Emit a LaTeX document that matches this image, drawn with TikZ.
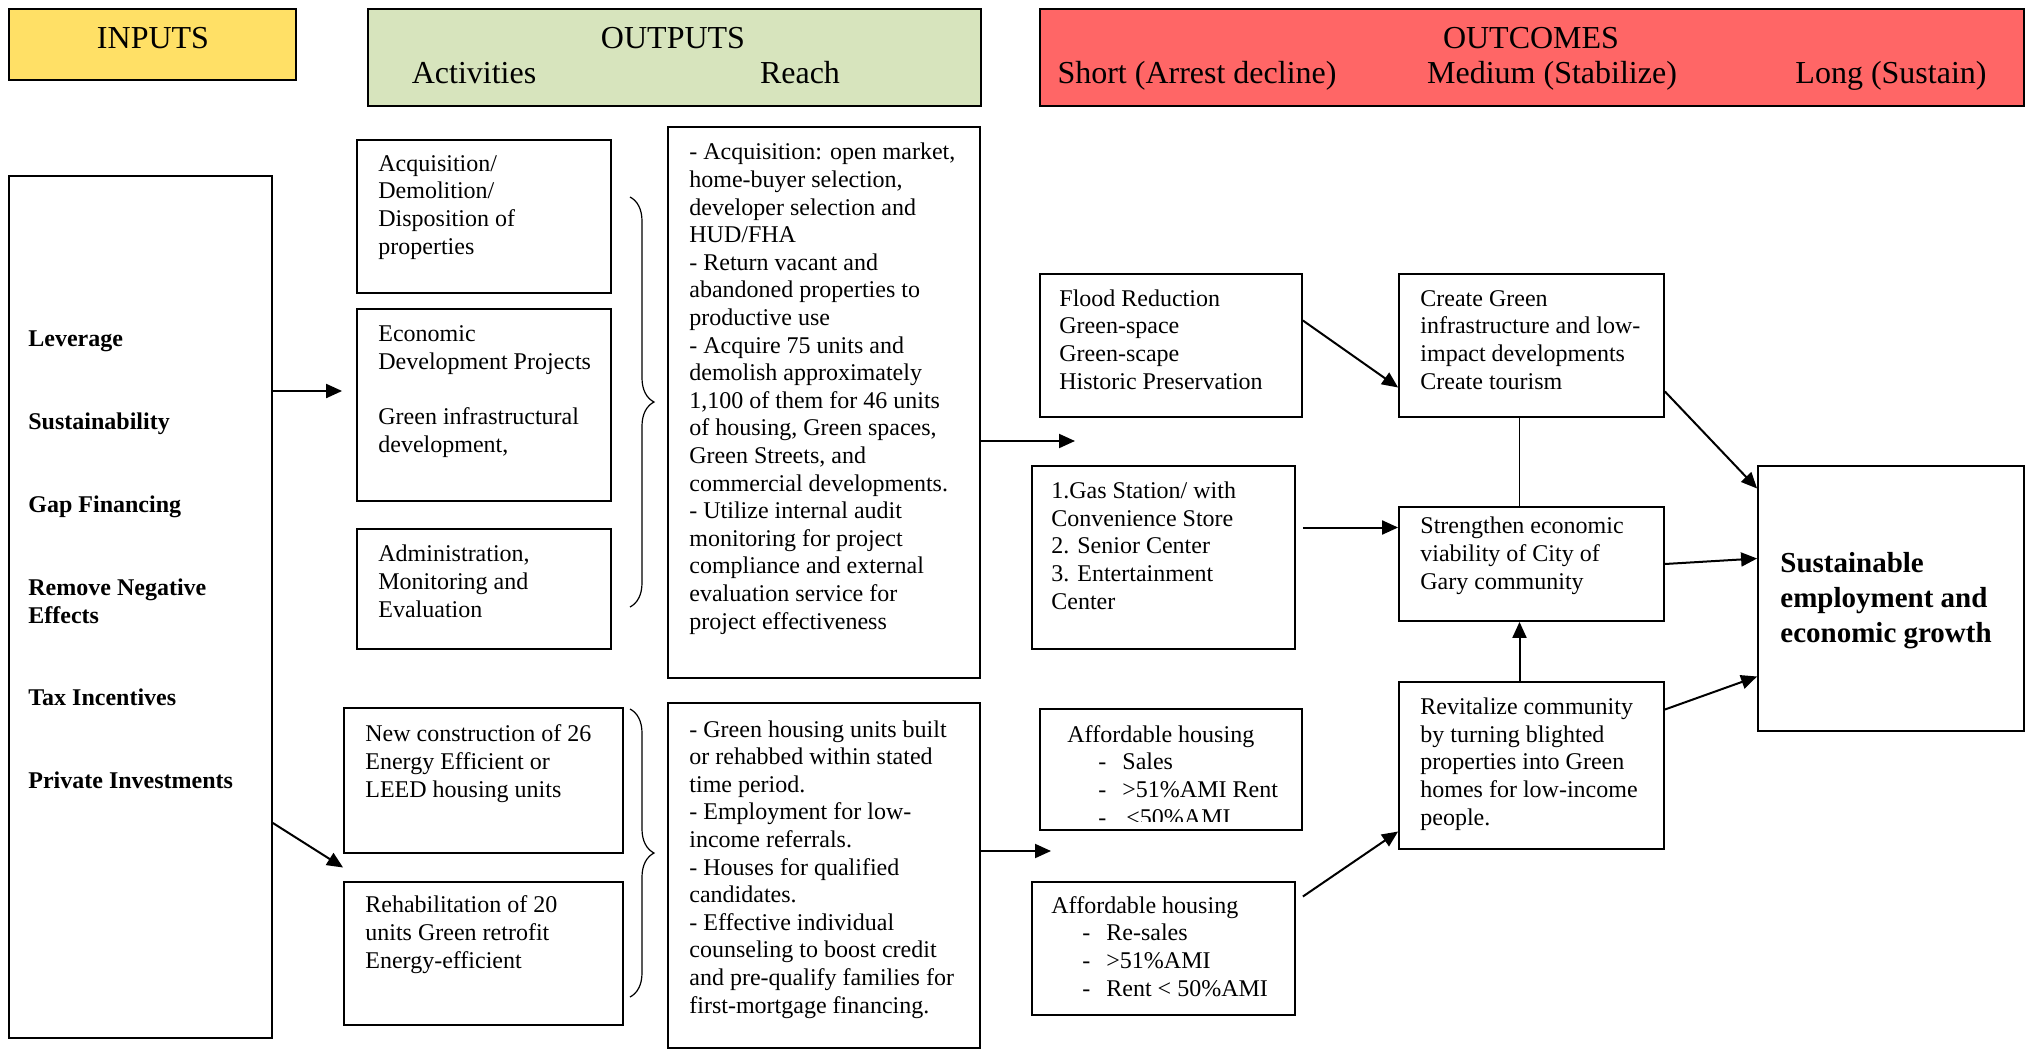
\documentclass[tikz,border=0pt]{standalone}
\usepackage{fontspec}
\setmainfont{Liberation Serif}
\usetikzlibrary{arrows.meta,fit,calc,decorations.pathreplacing}
\definecolor{inyellow}{HTML}{FFE066}
\definecolor{outgreen}{HTML}{D7E4BD}
\definecolor{outred}{HTML}{FF6666}
\newcommand{\itm}[1]{\hspace*{15.5pt}\makebox[12pt][l]{-}#1}
\begin{document}
\begin{tikzpicture}[x=0.5pt,y=-0.5pt,
  box/.style={draw, line width=0.9pt, inner sep=0pt},
  head/.style={draw, line width=1pt, inner sep=0pt},
  txt/.style={anchor=base west, inner sep=0pt, align=left, font=\fontsize{12}{13.8}\selectfont},
  htxt/.style={anchor=base, inner sep=0pt, font=\fontsize{16}{19}\selectfont},
  btxt/.style={txt, font=\fontsize{12}{13.8}\selectfont\bfseries},
  arr/.style={-{Triangle[length=8pt,width=7pt]}, line width=1pt},
  brc/.style={decorate, decoration={brace, amplitude=12pt}, line width=0.6pt}]
\useasboundingbox (0,0) rectangle (2030,1050);

% headers
\node[head, fill=inyellow, fit={(9,9) (296,80)}] (hin) {};
\node[head, fill=outgreen, fit={(368,9) (981,106)}] (hout) {};
\node[head, fill=outred, fit={(1040,9) (2024,106)}] (hres) {};
\node[htxt] (hin-t) at (153,48) {INPUTS};
\node[htxt] (hout-t) at (673,48) {OUTPUTS};
\node[htxt] (hact-t) at (474,83) {Activities};
\node[htxt] (hreach-t) at (800,83) {Reach};
\node[htxt] (hres-t) at (1531,48) {OUTCOMES};
\node[htxt] (hshort-t) at (1197,83) {Short (Arrest decline)};
\node[htxt] (hmed-t) at (1552,83) {Medium (Stabilize)};
\node[htxt] (hlong-t) at (1891,83) {Long (Sustain)};

% inputs (text nodes sit on the baseline of their last line)
\node[box, fit={(9,176) (272,1038)}] (inputs) {};
\node[btxt] (in1) at (28,346) {Leverage};
\node[btxt] (in2) at (28,429) {Sustainability};
\node[btxt] (in3) at (28,512) {Gap Financing};
\node[btxt] (in4) at (28,623) {Remove Negative\\Effects};
\node[btxt] (in5) at (28,705) {Tax Incentives};
\node[btxt] (in6) at (28,788) {Private Investments};

% activities
\node[box, fit={(357,140) (611,293)}] (acq) {};
\node[box, fit={(357,309) (611,501)}] (econ) {};
\node[box, fit={(357,529) (611,649)}] (admin) {};
\node[box, fit={(344,708) (623,853)}] (newc) {};
\node[box, fit={(344,882) (623,1025)}] (rehab) {};
\node[txt] (acq-t) at (378,254) {Acquisition/\\Demolition/\\Disposition of\\properties};
\node[txt] (econ-t) at (378,452) {Economic\\Development Projects\\[13.8pt]Green infrastructural\\development,};
\node[txt] (admin-t) at (378,617) {Administration,\\Monitoring and\\Evaluation};
\node[txt] (newc-t) at (365,797) {New construction of 26\\Energy Efficient or\\LEED housing units};
\node[txt] (rehab-t) at (365,968) {Rehabilitation of 20\\units Green retrofit\\Energy-efficient};
\draw[brc] (630,197) -- (630,607);
\draw[brc] (630,709) -- (630,997);

% reach
\node[box, fit={(668,127) (980,678)}] (reach1) {};
\node[box, fit={(668,703) (980,1048)}] (reach2) {};
\node[txt] (reach1-t) at (689,629) {- Acquisition: open market,\\home-buyer selection,\\developer selection and\\HUD/FHA\\- Return vacant and\\abandoned properties to\\productive use\\- Acquire 75 units and\\demolish approximately\\1,100 of them for 46 units\\of housing, Green spaces,\\Green Streets, and\\commercial developments.\\- Utilize internal audit\\monitoring for project\\compliance and external\\evaluation service for\\project effectiveness};
\node[txt] (reach2-t) at (689,1013) {- Green housing units built\\or rehabbed within stated\\time period.\\- Employment for low-\\income referrals.\\- Houses for qualified\\candidates.\\- Effective individual\\counseling to boost credit\\and pre-qualify families for\\first-mortgage financing.};

% short term
\node[box, fit={(1040,274) (1302,417)}] (flood) {};
\node[box, fit={(1032,466) (1295,649)}] (gas) {};
\node[box, fit={(1040,709) (1302,830)}] (aff1) {};
\node[box, fit={(1032,882) (1295,1015)}] (aff2) {};
\node[txt] (flood-t) at (1059,389) {Flood Reduction\\Green-space\\Green-scape\\Historic Preservation};
\node[txt] (gas-t) at (1051,609) {1.Gas Station/ with\\Convenience Store\\2. Senior Center\\3. Entertainment\\Center};
\begin{scope}
\clip (1040,709) rectangle (1302,821);
\node[txt] (aff1-t) at (1067,825) {Affordable housing\\\itm{Sales}\\\itm{>51\%AMI Rent}\\\itm{\,<50\%AMI}};
\end{scope}
\node[txt] (aff2-t) at (1051,996) {Affordable housing\\\itm{Re-sales}\\\itm{>51\%AMI}\\\itm{Rent < 50\%AMI}};

% medium term
\node[box, fit={(1399,274) (1664,417)}] (green) {};
\node[box, fit={(1399,507) (1664,621)}] (strength) {};
\node[box, fit={(1399,682) (1664,849)}] (revit) {};
\node[txt] (green-t) at (1420,389) {Create Green\\infrastructure and low-\\impact developments\\Create tourism};
\node[txt] (strength-t) at (1420,589) {Strengthen economic\\viability of City of\\Gary community};
\node[txt] (revit-t) at (1420,825) {Revitalize community\\by turning blighted\\properties into Green\\homes for low-income\\people.};

% long term
\node[box, fit={(1758,466) (2024,731)}] (sust) {};
\node[txt, font=\fontsize{14.5}{17.5}\selectfont\bfseries] (sust-t) at (1780,642) {Sustainable\\employment and\\economic growth};

% connectors
\coordinate (s1) at (1075,441);
\coordinate (s2) at (1051,851);
\draw[arr, shorten >=7pt] ([yshift=108pt]inputs.east) -- ([yshift=108pt]inputs.east -| econ.west);
\draw[arr] ([yshift=-108pt]inputs.east) -- ($(newc.south west)!0.5!(rehab.north west)$);
\draw[arr] (reach1.east |- s1) -- (s1);
\draw[arr] (reach2.east |- s2) -- (s2);
\draw[arr] ([yshift=12.5pt]flood.east) -- ([yshift=-21pt]green.west);
\draw[arr, shorten <=3.5pt] ([yshift=15pt]gas.east) -- ([yshift=15pt]gas.east -| strength.west);
\draw[line width=0.9pt] ([xshift=-6pt]green.south) -- ([xshift=-6pt]green.south |- strength.north);
\draw[arr] ([xshift=-6pt]revit.north) -- ([xshift=-6pt]revit.north |- strength.south);
\draw[arr] ([xshift=3.5pt,yshift=26pt]aff2.east) -- ([yshift=-33pt]revit.west);
\draw[arr] ([yshift=-23pt]green.east) -- ([yshift=55pt]sust.west);
\draw[arr] (strength.east) -- ([yshift=20pt]sust.west);
\draw[arr] ([yshift=28pt]revit.east) -- ([yshift=-39pt]sust.west);
\end{tikzpicture}
\end{document}
